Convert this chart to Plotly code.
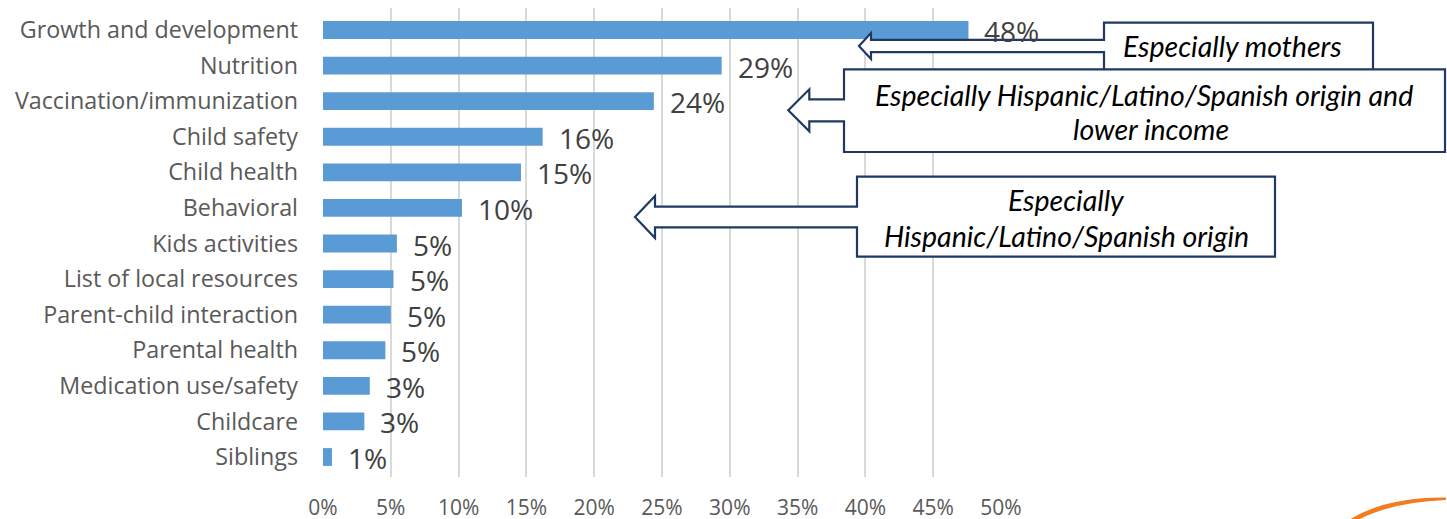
import plotly.graph_objects as go

# Share of parents who want information on each topic (%)
topics = [
    "Growth and development",
    "Nutrition",
    "Vaccination/immunization",
    "Child safety",
    "Child health",
    "Behavioral",
    "Kids activities",
    "List of local resources",
    "Parent-child interaction",
    "Parental health",
    "Medication use/safety",
    "Childcare",
    "Siblings",
]
shares = [47.6, 29.4, 24.4, 16.2, 14.6, 10.25, 5.45, 5.2, 5.0, 4.6, 3.45, 3.05, 0.66]

x_ticks = [0, 5, 10, 15, 20, 25, 30, 35, 40, 45, 50]
x_tick_text = [f"{v}%" for v in x_ticks]

callout_notes = [
    ["Especially mothers"],
    ["Especially Hispanic/Latino/Spanish origin and", "lower income"],
    ["Especially", "Hispanic/Latino/Spanish origin"],
]

W, H = 1447, 519
L, R, T, B = 323, 446, 8, 42
PW, PH = W - L - R, H - T - B

BAR = "#5B9BD5"
NAVY = "#1F3864"


def px(x, y):
    """Pixel position on the page -> paper coordinates."""
    return (x - L) / PW, (H - B - y) / PH


def arrow_callout(box, tip, head_x, head_half, shaft_half):
    """Path of a box with a left-pointing block arrow."""
    x0, y0, x1, y1 = box
    tx, ty = tip
    pts = [
        (x0, y0), (x1, y0), (x1, y1), (x0, y1),
        (x0, ty + shaft_half), (head_x, ty + shaft_half),
        (head_x, ty + head_half), (tx, ty),
        (head_x, ty - head_half), (head_x, ty - shaft_half),
        (x0, ty - shaft_half),
    ]
    parts = []
    for i, (a, b) in enumerate(pts):
        u, v = px(a, b)
        parts.append(("M" if i == 0 else "L") + f"{u:.5f},{v:.5f}")
    return " ".join(parts) + " Z"


fig = go.Figure()
fig.add_trace(go.Bar(
    x=shares,
    y=topics,
    orientation="h",
    marker=dict(color=BAR, line=dict(width=0)),
    hoverinfo="skip",
))

annotations = []
for t, v in zip(topics, shares):
    annotations.append(dict(
        x=v, y=t, xref="x", yref="y",
        text=f"{v:.0f}%", showarrow=False,
        xanchor="left", yanchor="middle", xshift=14, yshift=-1,
        font=dict(family="Open Sans", size=28, color="#404040"),
    ))

shapes = []
# callout boxes: (box, tip, head base x, head half height, shaft half height)
callout_geom = [
    ((1104, 22.7, 1373, 72), (859, 46), 871, 13, 6.2),
    ((844, 69.3, 1445, 152), (788.3, 110.3), 809.3, 21, 11),
    ((857, 176.7, 1275, 256.7), (635, 217), 655, 21, 10.3),
]
for g in callout_geom:
    shapes.append(dict(
        type="path", xref="paper", yref="paper",
        path=arrow_callout(*g),
        fillcolor="white", line=dict(color=NAVY, width=2.2),
        layer="above",
    ))

# note text lines: (centre x, centre y) in page pixels
note_pos = [
    [(1232, 46)],
    [(1144, 95), (1151, 129)],
    [(1066, 200), (1066, 236)],
]
for lines, positions in zip(callout_notes, note_pos):
    for line, (cx, cy) in zip(lines, positions):
        u, v = px(cx, cy)
        annotations.append(dict(
            x=u, y=v, xref="paper", yref="paper",
            text=line, showarrow=False,
            xanchor="center", yanchor="middle",
            font=dict(family="Lato", size=28.5, color="#000000", style="italic"),
        ))

# orange swoosh in the lower right corner
sw = [(1349, 520), (1446, 497.5), (1446, 500), (1358, 520)]
p = [px(a, b) for a, b in sw]
c1 = px(1385, 497)
c2 = px(1392, 502)
shapes.append(dict(
    type="path", xref="paper", yref="paper",
    path=(f"M{p[0][0]:.5f},{p[0][1]:.5f} Q{c1[0]:.5f},{c1[1]:.5f} {p[1][0]:.5f},{p[1][1]:.5f} "
          f"L{p[2][0]:.5f},{p[2][1]:.5f} Q{c2[0]:.5f},{c2[1]:.5f} {p[3][0]:.5f},{p[3][1]:.5f} Z"),
    fillcolor="#F47B20", line=dict(width=0), layer="above",
))

fig.update_layout(
    width=W, height=H, autosize=False,
    margin=dict(l=L, r=R, t=T, b=B, pad=0, autoexpand=False),
    paper_bgcolor="white", plot_bgcolor="white",
    bargap=0.5,
    showlegend=False,
    annotations=annotations,
    shapes=shapes,
    xaxis=dict(
        range=[0, 50], automargin=False,
        tickvals=x_ticks, ticktext=x_tick_text,
        showgrid=True, gridcolor="#D9D9D9", gridwidth=2,
        zeroline=False, showline=False, ticks="",
        ticklabelstandoff=16,
        tickfont=dict(family="Open Sans", size=21, color="#595959"),
    ),
    yaxis=dict(
        categoryorder="array", categoryarray=topics,
        autorange="reversed", automargin=False,
        showgrid=False, zeroline=False, showline=False, ticks="",
        ticklabelstandoff=24,
        tickfont=dict(family="Open Sans", size=23.3, color="#595959"),
    ),
)

fig.write_html("out.html")
